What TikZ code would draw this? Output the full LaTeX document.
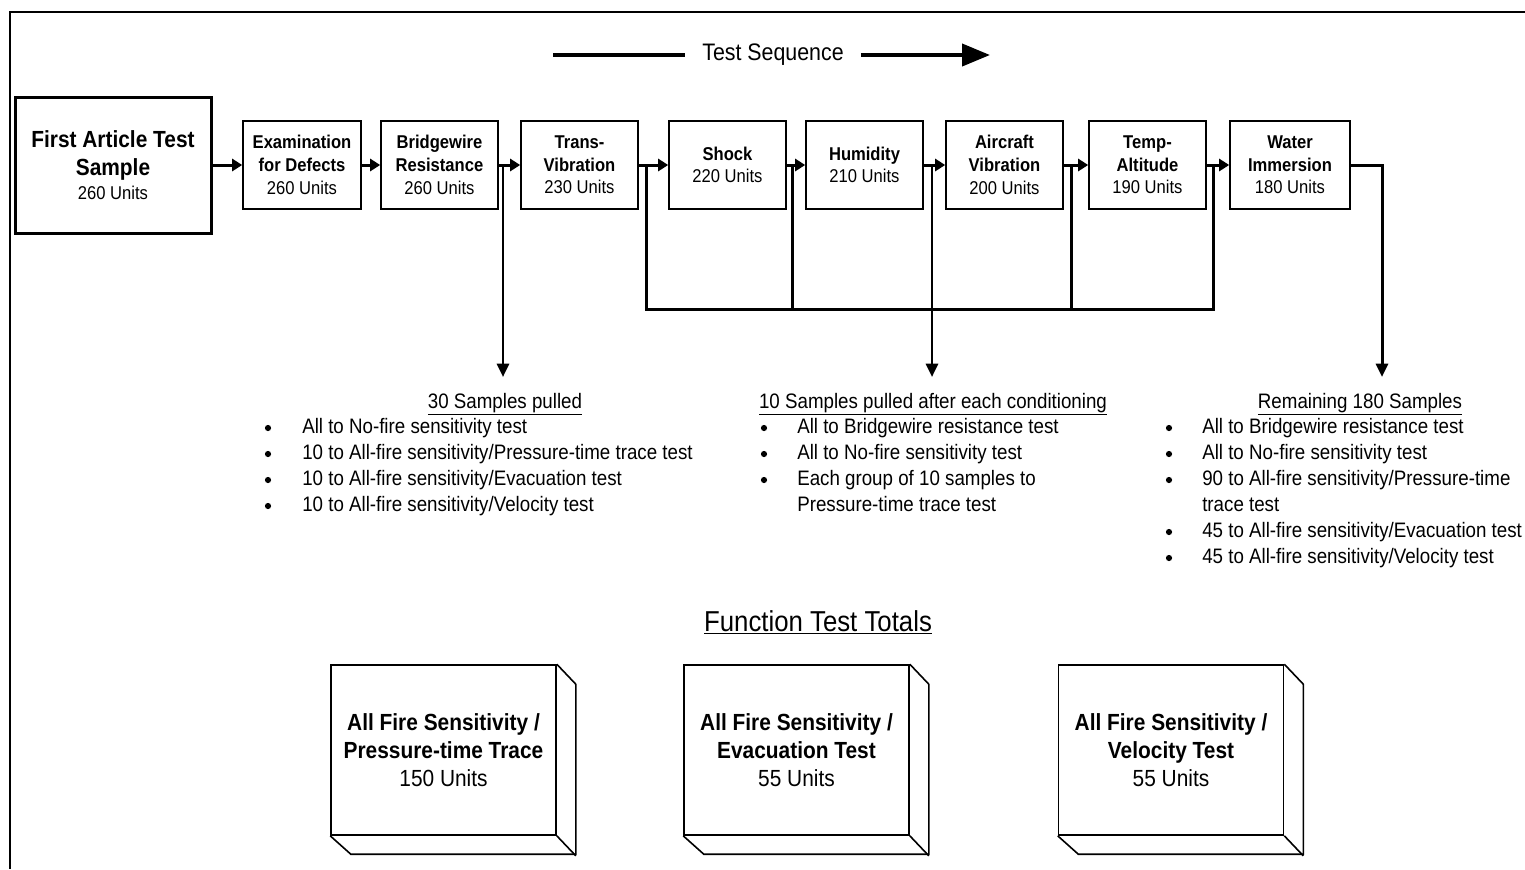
\documentclass[tikz,border=0pt]{standalone}
\usepackage{fontspec}
\setmainfont[FakeStretch=0.895]{Liberation Sans}
\usetikzlibrary{arrows.meta}
\begin{document}
\begin{tikzpicture}[x=0.75pt,y=-0.75pt,
  stage/.style={draw, line width=1.2pt, inner sep=0pt, minimum width=117*0.75pt,
    minimum height=88*0.75pt, align=center, font=\fontsize{13.9}{17}\selectfont},
  bigbox/.style={draw, line width=2.25pt, inner sep=0pt, minimum width=196*0.75pt,
    minimum height=136*0.75pt, align=center, font=\fontsize{17.5}{21}\selectfont},
  face/.style={draw, line width=1.2pt, inner sep=0pt, minimum width=225*0.75pt,
    minimum height=170*0.75pt, align=center, font=\fontsize{17.5}{21}\selectfont},
  side/.style={line width=1.2pt, line join=miter},
  conn/.style={line width=2.25pt, -{Triangle[length=7.5pt,width=9pt]}},
  plain/.style={line width=2.25pt},
  drop/.style={line width=2.1pt, -{Triangle[length=10pt,width=9pt]}},
  lst/.style={anchor=base west, inner sep=0pt, font=\fontsize{15.7}{19}\selectfont},
  bul/.style={circle, fill=black, inner sep=0pt, minimum size=6.2*0.75pt, yshift=5*0.75pt},
  head/.style={anchor=base, inner sep=0pt, font=\fontsize{15.7}{19}\selectfont}
]
\useasboundingbox (0,0) rectangle (1525,869);
% frame
\draw[line width=1.5pt] (1525,12) -- (10,12) -- (10,869);

% test sequence
\node[inner ysep=0pt, inner xsep=17*0.75pt, font=\fontsize{17.9}{20}\selectfont] (ts) at (773,55) {Test Sequence};
\coordinate (tsa) at (553,55);
\coordinate (tsb) at (990,55);
\draw[line width=3pt] (tsa) -- (ts.west);
\draw[line width=3pt, -{Triangle[length=21pt,width=16.5pt]}] (ts.east) -- (tsb);

% stages
\node[bigbox] (fat) at (113,165) {\textbf{First Article Test}\\\textbf{Sample}\\[-2.5pt]{\fontsize{13.9}{17}\selectfont 260 Units}};
\node[stage, minimum width=118*0.75pt] (exam) at (302,165) {\textbf{Examination}\\\textbf{for Defects}\\260 Units};
\node[stage] (bw) at (439.5,165) {\textbf{Bridgewire}\\\textbf{Resistance}\\260 Units};
\node[stage] (trans) at (579.5,165) {\textbf{Trans-}\\\textbf{Vibration}\\230 Units};
\node[stage] (shock) at (727.5,165) {\textbf{Shock}\\220 Units};
\node[stage] (hum) at (864.5,165) {\textbf{Humidity}\\210 Units};
\node[stage] (air) at (1004.5,165) {\textbf{Aircraft}\\\textbf{Vibration}\\200 Units};
\node[stage] (temp) at (1147.5,165) {\textbf{Temp-}\\\textbf{Altitude}\\190 Units};
\node[stage, minimum width=120*0.75pt] (water) at (1290,165) {\textbf{Water}\\\textbf{Immersion}\\180 Units};

% junctions
\coordinate (j1) at (503,165);
\coordinate (j2) at (646,165);
\coordinate (j3) at (792,165);
\coordinate (j4) at (932,165);
\coordinate (j5) at (1071,165);
\coordinate (j6) at (1213,165);
\coordinate (j7) at (1382,165);
\coordinate (b2) at (646,309);
\coordinate (b3) at (792,309);
\coordinate (b5) at (1071,309);
\coordinate (b6) at (1213,309);
\coordinate (d1) at (503,377);
\coordinate (d4) at (932,377);
\coordinate (d7) at (1382,377);

% flow arrows
\draw[conn] (fat) -- (exam);
\draw[conn] (exam) -- (bw);
\draw[conn] (bw) -- (trans);
\draw[conn] (trans) -- (shock);
\draw[conn] (shock) -- (hum);
\draw[conn] (hum) -- (air);
\draw[conn] (air) -- (temp);
\draw[conn] (temp) -- (water);

% pulls
\draw[drop] (j1) -- (d1);
\draw[plain, line cap=rect] (j2) -- (b2) -- (b6) -- (j6);
\draw[plain] (j3) -- (b3);
\draw[plain] (j5) -- (b5);
\draw[drop] (j4) -- (d4);
\draw[line width=2.25pt, line join=miter, -{Triangle[length=10pt,width=9pt]}] (water.east) -- (j7) -- (d7);

% list 1
\node[head] (h1) at (505,408) {\underline{30 Samples pulled}};
\node[bul] (b1a) at (268,433) {};
\node[lst] (t1a) at (302,433) {All to No-fire sensitivity test};
\node[bul] (b1b) at (268,459) {};
\node[lst] (t1b) at (302,459) {10 to All-fire sensitivity/Pressure-time trace test};
\node[bul] (b1c) at (268,485) {};
\node[lst] (t1c) at (302,485) {10 to All-fire sensitivity/Evacuation test};
\node[bul] (b1d) at (268,511) {};
\node[lst] (t1d) at (302,511) {10 to All-fire sensitivity/Velocity test};

% list 2
\node[head] (h2) at (933,408) {\underline{10 Samples pulled after each conditioning}};
\node[bul] (b2a) at (764,433) {};
\node[lst] (t2a) at (797,433) {All to Bridgewire resistance test};
\node[bul] (b2b) at (764,459) {};
\node[lst] (t2b) at (797,459) {All to No-fire sensitivity test};
\node[bul] (b2c) at (764,485) {};
\node[lst] (t2c) at (797,485) {Each group of 10 samples to};
\node[lst] (t2d) at (797,511) {Pressure-time trace test};

% list 3
\node[head] (h3) at (1360,408) {\underline{Remaining 180 Samples}};
\node[bul] (b3a) at (1169,433) {};
\node[lst] (t3a) at (1202,433) {All to Bridgewire resistance test};
\node[bul] (b3b) at (1169,459) {};
\node[lst] (t3b) at (1202,459) {All to No-fire sensitivity test};
\node[bul] (b3c) at (1169,485) {};
\node[lst] (t3c) at (1202,485) {90 to All-fire sensitivity/Pressure-time};
\node[lst] (t3d) at (1202,511) {trace test};
\node[bul] (b3e) at (1169,537) {};
\node[lst] (t3e) at (1202,537) {45 to All-fire sensitivity/Evacuation test};
\node[bul] (b3f) at (1169,563) {};
\node[lst] (t3f) at (1202,563) {45 to All-fire sensitivity/Velocity test};

% totals
\node[anchor=base, inner sep=0pt, font=\fontsize{21.6}{25}\selectfont] (ftt) at (818,631) {\underline{Function Test Totals}};

\node[face] (f1) at (443.5,750) {\textbf{All Fire Sensitivity /}\\\textbf{Pressure-time Trace}\\150 Units};
\node[face] (f2) at (796.5,750) {\textbf{All Fire Sensitivity /}\\\textbf{Evacuation Test}\\55 Units};
\node[face] (f3) at (1171,750) {\textbf{All Fire Sensitivity /}\\\textbf{Velocity Test}\\55 Units};
\foreach \f in {f1,f2,f3}{
  \draw[side] (\f.north east) -- ++(19,20) -- ++(0,170) -- ++(-225,0) -- (\f.south west);
  \draw[side] (\f.south east) -- ++(19,20);
}
\end{tikzpicture}
\end{document}
